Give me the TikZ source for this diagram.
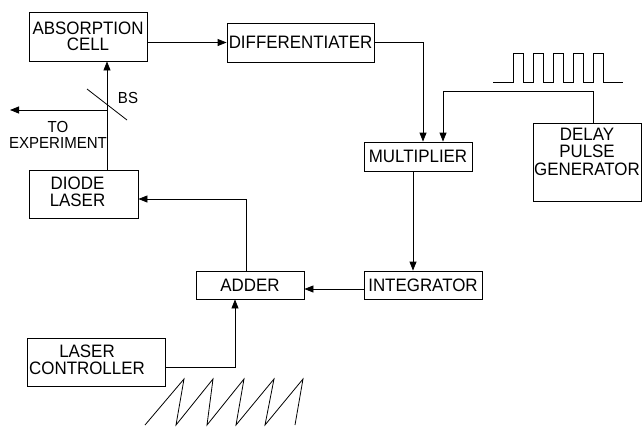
\documentclass[tikz,border=0pt]{standalone}
\usepackage{fontspec}
\newfontfamily\diagfont[FakeStretch=0.94]{Liberation Sans}
\usetikzlibrary{arrows.meta}
\begin{document}
\begin{tikzpicture}[x=1pt,y=-1pt,
  box/.style={draw,line width=0.8pt,inner sep=0pt,align=center,
    font=\diagfont\fontsize{18}{16.5}\selectfont},
  lbl/.style={inner sep=0pt,align=center,font=\diagfont\fontsize{16}{16}\selectfont},
  wire/.style={line width=0.8pt},
  arr/.style={wire,-{Triangle[length=9pt,width=7pt]}}]
\useasboundingbox (0,0) rectangle (642,426);
% boxes
\node[box,minimum width=118pt,minimum height=49pt] (abs) at (88,36.5) {ABSORPTION\\CELL};
\node[box,minimum width=147pt,minimum height=39pt] (diff) at (300.5,42.5) {DIFFERENTIATER};
\node[box,minimum width=108pt,minimum height=29pt] (mult) at (418,156.5) {MULTIPLIER};
\node[box,minimum width=108pt,minimum height=78pt,font=\diagfont\fontsize{18}{15.5}\selectfont] (delay) at (587,162)
  {\begin{tabular}{@{}c@{}}DELAY\\PULSE\\GENERATOR\\[16pt]\end{tabular}};
\node[box,minimum width=109pt,minimum height=48pt] (diode) at (83.5,194)
  {\begin{tabular}{@{}c@{}}DIODE\\LASER\end{tabular}\hspace{12pt}};
\node[box,minimum width=138pt,minimum height=48pt] (laser) at (96,362)
  {\begin{tabular}{@{}c@{}}LASER\\CONTROLLER\end{tabular}\hspace{18pt}};
\node[box,minimum width=118pt,minimum height=28pt] (integ) at (423,285) {INTEGRATOR};
\node[box,minimum width=108pt,minimum height=28pt] (adder) at (250,285) {ADDER};
% coordinates
\coordinate (m1) at ([xshift=5pt]mult.north);
\coordinate (m2) at ([xshift=25pt]mult.north);
\coordinate (dj) at ([xshift=6pt]delay.north);
\coordinate (dtop) at ([xshift=23.5pt]diode.north);
\coordinate (bs) at (107,110);
\coordinate (out) at (10,110);
% connectors
\draw[arr] (abs.east |- diff.west) -- (diff.west);
\draw[arr] (diff.east) -| (m1);
\draw[arr] (dj) -- ++(0,-31) -| (m2);
\draw[arr] ([xshift=-5pt]mult.south) -- ([xshift=-5pt]mult.south |- integ.north);
\draw[arr] ([yshift=-4pt]integ.west) -- ([yshift=-4pt]adder.east);
\draw[arr] ([xshift=-4pt]adder.north) |- ([yshift=-5pt]diode.east);
\draw[arr] ([yshift=-5pt]laser.east) -| ([xshift=-15pt]adder.south);
\draw[arr] (dtop) -- (dtop |- abs.south);
\draw[arr] (bs) -- (out);
% beam splitter
\draw[wire] (87,89) -- (127,120);
\node[lbl] (bslbl) at (128,98) {BS};
\node[lbl] (tolbl) at (58,135) {TO\\EXPERIMENT};
% pulse train
\draw[wire] (493,82) \foreach \i in {0,...,4}{ -- ({513+20*\i},82) -- ({513+20*\i},53) -- ({523+20*\i},53) -- ({523+20*\i},82)} -- (623,82);
% sawtooth
\draw[wire] (145,425) -- (184,379) -- (176,425) -- (213,379) -- (207,425) -- (244,379) -- (236,425) -- (274,379) -- (265,425) -- (303,379) -- (295,425);
\end{tikzpicture}
\end{document}
